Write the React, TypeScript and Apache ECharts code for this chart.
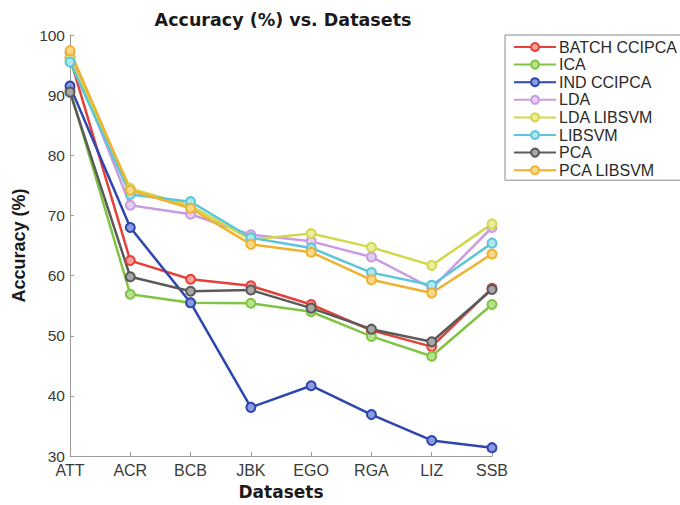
import React, { useEffect, useRef } from "react";
import * as echarts from "echarts";

const datasets = ["ATT", "ACR", "BCB", "JBK", "EGO", "RGA", "LIZ", "SSB"];

const batchCcipca = [96.2, 62.5, 59.4, 58.3, 55.2, 50.9, 48.2, 57.9];
const ica = [90.8, 56.9, 55.5, 55.4, 54.0, 49.9, 46.6, 55.2];
const indCcipca = [91.5, 68.0, 55.5, 38.1, 41.7, 36.9, 32.6, 31.4];
const lda = [97.0, 71.7, 70.2, 66.8, 65.7, 63.1, 57.9, 68.0];
const ldaLibsvm = [96.0, 74.5, 71.6, 66.0, 67.0, 64.7, 61.7, 68.6];
const libsvm = [95.5, 73.5, 72.3, 66.3, 64.6, 60.5, 58.4, 65.4];
const pca = [90.5, 59.8, 57.4, 57.6, 54.6, 51.1, 49.0, 57.7];
const pcaLibsvm = [97.4, 74.2, 71.2, 65.2, 63.9, 59.3, 57.1, 63.6];

const seriesDefs = [
  { name: "BATCH CCIPCA", data: batchCcipca, color: "#e5403a", fill: "#f4a39a" },
  { name: "ICA", data: ica, color: "#80c443", fill: "#b9e08e" },
  { name: "IND CCIPCA", data: indCcipca, color: "#2c46ad", fill: "#8c9be0" },
  { name: "LDA", data: lda, color: "#c99ce0", fill: "#e6cdf2" },
  { name: "LDA LIBSVM", data: ldaLibsvm, color: "#d2d84a", fill: "#eaed9c" },
  { name: "LIBSVM", data: libsvm, color: "#5cc6d8", fill: "#b1e6ef" },
  { name: "PCA", data: pca, color: "#5a5a5a", fill: "#a8a8a8" },
  { name: "PCA LIBSVM", data: pcaLibsvm, color: "#f0b12e", fill: "#f8d98c" },
];

const FONT = "'Liberation Sans', Arial, Helvetica, sans-serif";
const BOLD_FONT = "'DejaVu Sans', 'Liberation Sans', Arial, sans-serif";

export default function App() {
  const ref = useRef<HTMLDivElement>(null);

  useEffect(() => {
    if (!ref.current) return;
    const chart = echarts.init(ref.current, undefined, { renderer: "svg" });
    chart.setOption({
      animation: false,
      backgroundColor: "#ffffff",
      textStyle: { fontFamily: FONT },
      title: {
        text: "Accuracy (%) vs. Datasets",
        left: 278,
        textAlign: "center",
        top: 6,
        textStyle: { fontFamily: BOLD_FONT, fontWeight: "bold", fontSize: 17.5, color: "#1a1a1a" },
      },
      legend: {
        orient: "vertical",
        left: 505,
        top: 35,
        itemWidth: 42,
        itemHeight: 10,
        itemGap: 1.6,
        padding: [4, 10, 2, 8],
        borderColor: "#8a8a8a",
        borderWidth: 1,
        textStyle: { fontFamily: FONT, fontSize: 16, color: "#2a2a2a", padding: [0, 0, 0, -2] },
        data: seriesDefs.map((s) => s.name),
      },
      grid: { left: 70, right: 188, top: 35, bottom: 43 },
      xAxis: {
        type: "category",
        data: datasets,
        boundaryGap: false,
        name: "Datasets",
        nameLocation: "middle",
        nameGap: 25,
        nameTextStyle: { fontFamily: BOLD_FONT, fontWeight: "bold", fontSize: 17, color: "#1a1a1a" },
        axisLine: { lineStyle: { color: "#9a9a9a", width: 1 } },
        axisTick: { inside: true, length: 4, lineStyle: { color: "#9a9a9a" } },
        axisLabel: { fontFamily: FONT, fontSize: 16, color: "#3a3a3a", margin: 6 },
        splitLine: { show: false },
      },
      yAxis: {
        type: "value",
        min: 30,
        max: 100,
        interval: 10,
        name: "Accuracy (%)",
        nameLocation: "middle",
        nameGap: 37,
        nameTextStyle: { fontFamily: FONT, fontWeight: "bold", fontSize: 18, color: "#1a1a1a" },
        axisLine: { show: true, lineStyle: { color: "#9a9a9a", width: 1 } },
        axisTick: { show: true, inside: true, length: 4, lineStyle: { color: "#9a9a9a" } },
        axisLabel: { fontFamily: FONT, fontSize: 15.5, color: "#3a3a3a", margin: 5 },
        splitLine: { show: false },
      },
      series: seriesDefs.map((s) => ({
        name: s.name,
        type: "line",
        data: s.data,
        symbol: "circle",
        symbolSize: 9,
        lineStyle: { color: s.color, width: 2.5 },
        itemStyle: { color: s.fill, borderColor: s.color, borderWidth: 2 },
        emphasis: { disabled: true },
      })),
    });
    return () => chart.dispose();
  }, []);

  return (
    <div
      ref={ref}
      style={{ position: "absolute", left: 0, top: 0, width: 680, height: 505 }}
    />
  );
}
